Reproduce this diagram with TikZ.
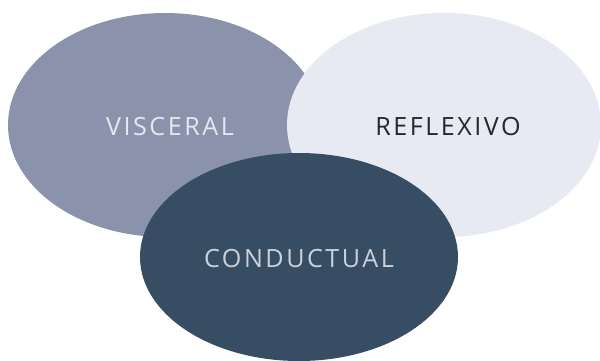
\documentclass[tikz,border=0pt]{standalone}
\usepackage{fontspec}
\setmainfont{Open Sans}[LetterSpace=10]
\usepackage{xcolor}
\usetikzlibrary{positioning}

\definecolor{visceralfill}{HTML}{8A93AB}
\definecolor{reflexfill}{HTML}{E8EAF3}
\definecolor{conductfill}{HTML}{364D63}
\definecolor{darktext}{HTML}{25272E}
\definecolor{lighttext}{HTML}{E4E8F0}

\tikzset{
  lbl/.style={inner sep=0pt, font=\fontsize{14.3}{16}\selectfont}
}

\begin{document}
\begin{tikzpicture}[x=0.02cm,y=-0.02cm]
    \def\px{0.02cm}
    \def\rx{157}
    \def\ry{112}

    \useasboundingbox (0,0) rectangle (600,360);

    \fill[visceralfill] (165,125) ellipse [x radius=\rx*\px, y radius=\ry*\px];
    \fill[reflexfill] (444,125) ellipse [x radius=\rx*\px, y radius=\ry*\px];
    \fill[conductfill] (299,257) ellipse [x radius=159*\px, y radius=104*\px];

    \node[lbl,text=lighttext] (visceral) at (170,127) {VISCERAL};
    \node[lbl,text=darktext] (reflexivo) at (448,127) {REFLEXIVO};
    \node[lbl,text=lighttext!85!conductfill] (conductual) at (299,259) {CONDUCTUAL};
  \end{tikzpicture}
\end{document}
